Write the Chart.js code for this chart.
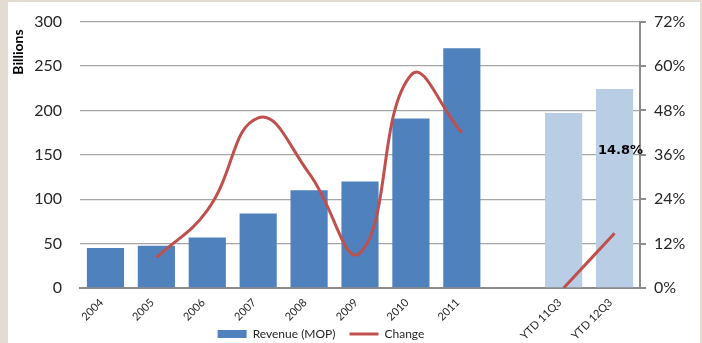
<!DOCTYPE html>
<html>
<head>
<meta charset="utf-8">
<script src="https://cdn.jsdelivr.net/npm/chart.js@4/dist/chart.umd.min.js"></script>
<style>
  html, body { margin: 0; padding: 0; background: #e3dcd3; }
  body { width: 702px; height: 343px; position: relative; overflow: hidden; }
  #wrap { position: absolute; left: 8px; top: 2px; width: 692px; height: 341px; background: #ffffff; overflow: hidden; }
  #chart { position: absolute; left: 0; top: -8px; }
</style>
</head>
<body>
<div id="wrap"><canvas id="chart" width="692" height="349"></canvas></div>
<script>
// Gaming revenue (billions MOP) and year-on-year change
const categories = ['2004', '2005', '2006', '2007', '2008', '2009', '2010', '2011', '', 'YTD 11Q3', 'YTD 12Q3'];
const revenueAnnual = [45, 47.5, 57, 84, 110, 120, 191, 270, null, null, null];
const revenueYtd = [null, null, null, null, null, null, null, null, null, 197, 224];
const changePct = [null, 8.2, 21, 46, 31, 9.5, 57.5, 42, null, 0, 14.8];
const leftTicks = [0, 50, 100, 150, 200, 250, 300];
const rightTicks = [0, 12, 24, 36, 48, 60, 72];
const labelledPoint = 10;

const BLUE = '#4f81bd';
const LIGHT_BLUE = '#b9cde5';
const RED = '#c0504d';
const GRID = '#a6a6a6';
const AXIS = '#8c8c8c';
const TEXT = '#262626';

// Bold value label next to the last point of the change line,
// plus the rotated unit caption beside the left axis
const annotations = {
  id: 'annotations',
  afterDatasetsDraw(chart) {
    const ctx = chart.ctx;
    const meta = chart.getDatasetMeta(2);
    const pt = meta.data[labelledPoint];
    const v = changePct[labelledPoint];
    if (pt && v != null) {
      ctx.save();
      ctx.font = 'bold 13px "DejaVu Sans"';
      ctx.fillStyle = '#000';
      ctx.textAlign = 'center';
      ctx.textBaseline = 'middle';
      ctx.fillText(v.toFixed(1) + '%', pt.x + 6, pt.y - 83);
      ctx.restore();
    }
    ctx.save();
    ctx.translate(10, 58);
    ctx.rotate(-Math.PI / 2);
    ctx.font = 'bold 14px Lato';
    ctx.fillStyle = '#000';
    ctx.textAlign = 'center';
    ctx.textBaseline = 'middle';
    ctx.fillText('Billions', 0, 0);
    ctx.restore();
  }
};

// Legend sits low and slightly left; category labels may run into the legend band
const placement = {
  id: 'placement',
  afterLayout(chart) {
    const lg = chart.legend;
    if (lg) {
      const h = lg.bottom - lg.top;
      lg.top = 320;
      lg.bottom = 320 + h;
      lg.left -= 33;
      lg.right -= 33;
    }
  },
  beforeDraw(chart) {
    chart.scales.x.bottom = chart.height;
  }
};

new Chart(document.getElementById('chart'), {
  data: {
    labels: categories,
    datasets: [
      {
        type: 'bar',
        label: 'Revenue (MOP)',
        data: revenueAnnual,
        backgroundColor: BLUE,
        yAxisID: 'y',
        categoryPercentage: 1,
        barPercentage: 0.73,
        skipNull: true,
        order: 2
      },
      {
        type: 'bar',
        label: 'YTD',
        data: revenueYtd,
        backgroundColor: LIGHT_BLUE,
        yAxisID: 'y',
        categoryPercentage: 1,
        barPercentage: 0.73,
        skipNull: true,
        order: 2
      },
      {
        type: 'line',
        label: 'Change',
        data: changePct,
        borderColor: RED,
        backgroundColor: RED,
        borderWidth: 3,
        pointRadius: 0,
        tension: 0.45,
        spanGaps: false,
        yAxisID: 'y1',
        order: 1
      }
    ]
  },
  options: {
    responsive: false,
    animation: false,
    layout: { padding: { top: 5, right: 0, bottom: 0, left: 0 } },
    plugins: {
      tooltip: { enabled: false },
      legend: {
        position: 'bottom',
        labels: {
          usePointStyle: true,
          pointStyleWidth: 29,
          boxHeight: 8,
          padding: 14,
          color: TEXT,
          font: { family: 'Lato', size: 12 },
          filter: (item) => item.text !== 'YTD',
          sort: (a, b) => a.datasetIndex - b.datasetIndex,
          generateLabels(chart) {
            const items = Chart.defaults.plugins.legend.labels.generateLabels(chart);
            items.forEach((it) => {
              if (it.datasetIndex === 2) {
                it.pointStyle = 'line';
                it.strokeStyle = RED;
                it.lineWidth = 3;
              } else {
                it.pointStyle = 'rect';
                it.lineWidth = 0;
              }
            });
            return items;
          }
        }
      }
    },
    scales: {
      x: {
        grid: { display: false },
        border: { display: true, color: AXIS, width: 2 },
        ticks: {
          color: TEXT,
          font: { family: 'Lato', size: 11 },
          minRotation: 45,
          maxRotation: 45,
          autoSkip: false,
          padding: 0,
          labelOffset: -4
        },
        afterFit(scale) { scale.height = 19; }
      },
      y: {
        position: 'left',
        min: 0,
        max: 300,
        afterBuildTicks(scale) { scale.ticks = leftTicks.map((v) => ({ value: v })); },
        grid: { color: GRID, lineWidth: 1.3, drawTicks: false },
        border: { display: false },
        ticks: {
          color: TEXT,
          font: { family: 'Lato', size: 16 },
          padding: 18
        },
        afterFit(scale) { scale.width = 72; }
      },
      y1: {
        position: 'right',
        min: 0,
        max: 72,
        afterBuildTicks(scale) { scale.ticks = rightTicks.map((v) => ({ value: v })); },
        grid: { drawOnChartArea: false, drawTicks: true, tickLength: 6, color: AXIS, lineWidth: 2 },
        border: { display: true, color: AXIS, width: 2 },
        ticks: {
          color: TEXT,
          font: { family: 'Lato', size: 16 },
          padding: 8,
          callback: (v) => v + '%'
        },
        afterFit(scale) { scale.width = 60; }
      }
    }
  },
  plugins: [annotations, placement]
});
</script>
</body>
</html>
